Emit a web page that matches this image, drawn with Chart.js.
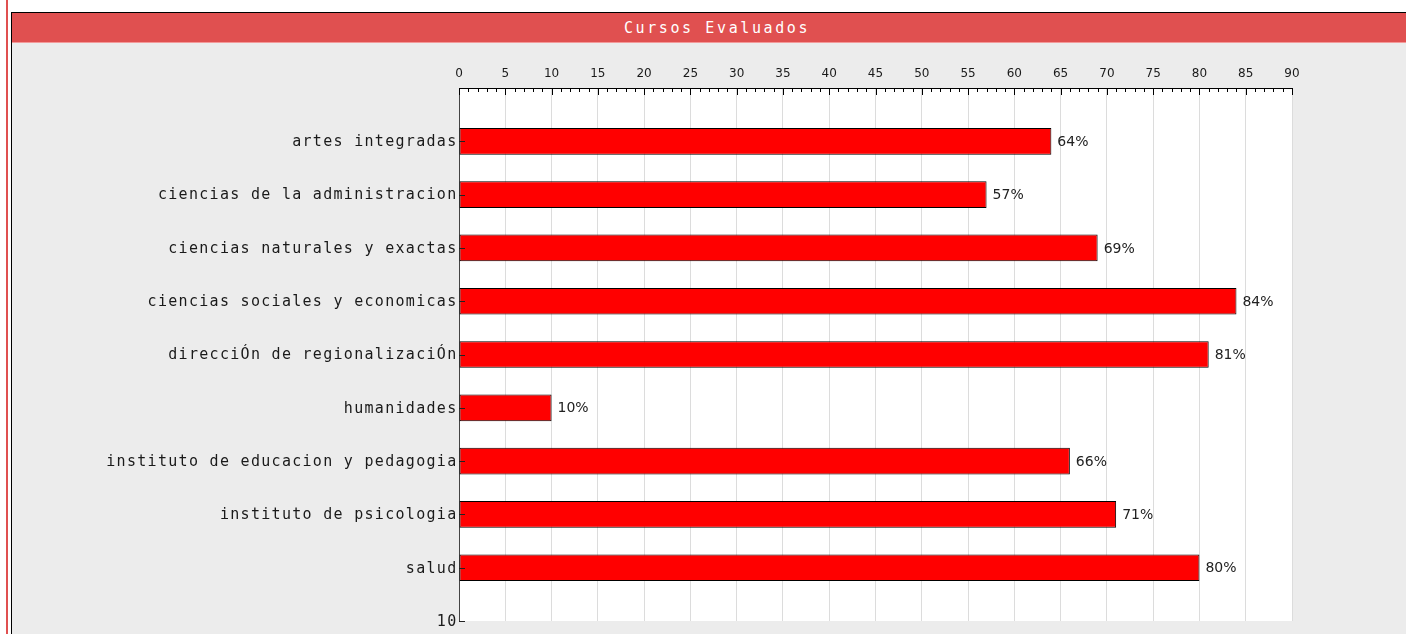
<!DOCTYPE html>
<html>
<head>
<meta charset="utf-8">
<script src="https://cdn.jsdelivr.net/npm/chart.js@4.4.1/dist/chart.umd.min.js"></script>
<style>
html, body { margin: 0; padding: 0; background: #fff; overflow: hidden; width: 1406px; height: 634px; }
#edge { position: absolute; left: 6px; top: 0; width: 2px; height: 634px; background: #e05050; }
#box { position: absolute; left: 11px; top: 12px; width: 1420px; height: 640px; border-top: 1px solid #000; border-left: 1px solid #000; background: #ececec; }
#title { width: 1410px; height: 29px; background: #e05050; border-bottom: 1px solid #f39a9a; color: #fff; font: 15px 'DejaVu Sans Mono'; line-height: 30px; letter-spacing: 2.6px; text-align: center; }
canvas { display: block; }
</style>
</head>
<body>
<div id="edge"></div>
<div id="box">
  <div id="title">Cursos Evaluados</div>
  <canvas id="c" width="1394" height="591"></canvas>
</div>
<script>
// data
const categories = [
    'artes integradas',
    'ciencias de la administracion',
    'ciencias naturales y exactas',
    'ciencias sociales y economicas',
    'direcciÓn de regionalizaciÓn',
    'humanidades',
    'instituto de educacion y pedagogia',
    'instituto de psicologia',
    'salud'
];
const values = [64, 57, 69, 84, 81, 10, 66, 71, 80];
const xMax = 90;
const xStep = 5;
const endLabel = '10';

// empty slot on top, stray "10" at the bottom like the original
const yLabels = [''].concat(categories, [endLabel]);
const barData = [null].concat(values, [null]);

const decor = {
    id: 'decor',
    beforeDraw(chart) {
        const { ctx, chartArea: a } = chart;
        ctx.save();
        ctx.fillStyle = '#fff';
        ctx.fillRect(a.left, a.top, a.right - a.left, a.bottom - a.top);
        ctx.restore();
    },
    afterDraw(chart) {
        const { ctx, chartArea: a, scales: { x, y } } = chart;
        ctx.save();
        // inward ticks on top axis
        ctx.strokeStyle = '#000';
        ctx.lineWidth = 1;
        ctx.beginPath();
        for (let v = 0; v <= xMax; v++) {
            const px = Math.round(x.getPixelForValue(v)) + 0.5;
            ctx.moveTo(px, a.top);
            ctx.lineTo(px, a.top + (v % xStep === 0 ? 7 : 4));
        }
        ctx.stroke();
        // inward ticks on left axis
        ctx.strokeStyle = '#222';
        ctx.beginPath();
        for (let i = 1; i < yLabels.length; i++) {
            const py = Math.round(y.getPixelForValue(i)) + 0.5;
            ctx.moveTo(a.left, py);
            ctx.lineTo(a.left + 6, py);
        }
        ctx.stroke();
        // category labels
        ctx.font = '15px "DejaVu Sans Mono"';
        ctx.letterSpacing = '1.3px';
        ctx.fillStyle = '#1a1a1a';
        ctx.textAlign = 'right';
        ctx.textBaseline = 'middle';
        yLabels.forEach((t, i) => {
            if (t) ctx.fillText(t, a.left - 1.5, y.getPixelForValue(i) + 1);
        });
        // value labels
        ctx.letterSpacing = '0px';
        ctx.font = '14px "DejaVu Sans"';
        ctx.textAlign = 'left';
        ctx.fillStyle = '#222';
        values.forEach((v, i) => {
            ctx.fillText(v + '%', x.getPixelForValue(v) + 6, y.getPixelForValue(i + 1) + 1);
        });
        ctx.restore();
    }
};

new Chart(document.getElementById('c'), {
    type: 'bar',
    data: {
        labels: yLabels,
        datasets: [{
            data: barData,
            backgroundColor: '#ff0000',
            borderColor: '#000',
            borderWidth: 1,
            borderSkipped: false,
            barPercentage: 0.5,
            categoryPercentage: 1
        }]
    },
    options: {
        indexAxis: 'y',
        responsive: false,
        animation: false,
        devicePixelRatio: 1,
        layout: { padding: { top: 0, left: 0, right: 114, bottom: 13 } },
        plugins: {
            legend: { display: false },
            tooltip: { enabled: false }
        },
        scales: {
            x: {
                position: 'top',
                min: 0,
                max: xMax,
                afterFit: s => { s.height = 45; },
                ticks: {
                    stepSize: 1,
                    autoSkip: false,
                    maxRotation: 0,
                    padding: 7,
                    color: '#1a1a1a',
                    font: { family: 'DejaVu Sans', size: 12 },
                    callback: v => (v % xStep === 0 ? v : '')
                },
                grid: {
                    drawTicks: false,
                    color: c => (c.tick && c.tick.value % xStep === 0 ? '#dcdcdc' : 'rgba(0,0,0,0)')
                },
                border: { color: '#000', width: 1 }
            },
            y: {
                offset: false,
                afterFit: s => { s.width = 447; },
                ticks: { display: false },
                grid: { display: false, offset: false },
                border: { color: '#444', width: 1 }
            }
        }
    },
    plugins: [decor]
});
</script>
</body>
</html>
